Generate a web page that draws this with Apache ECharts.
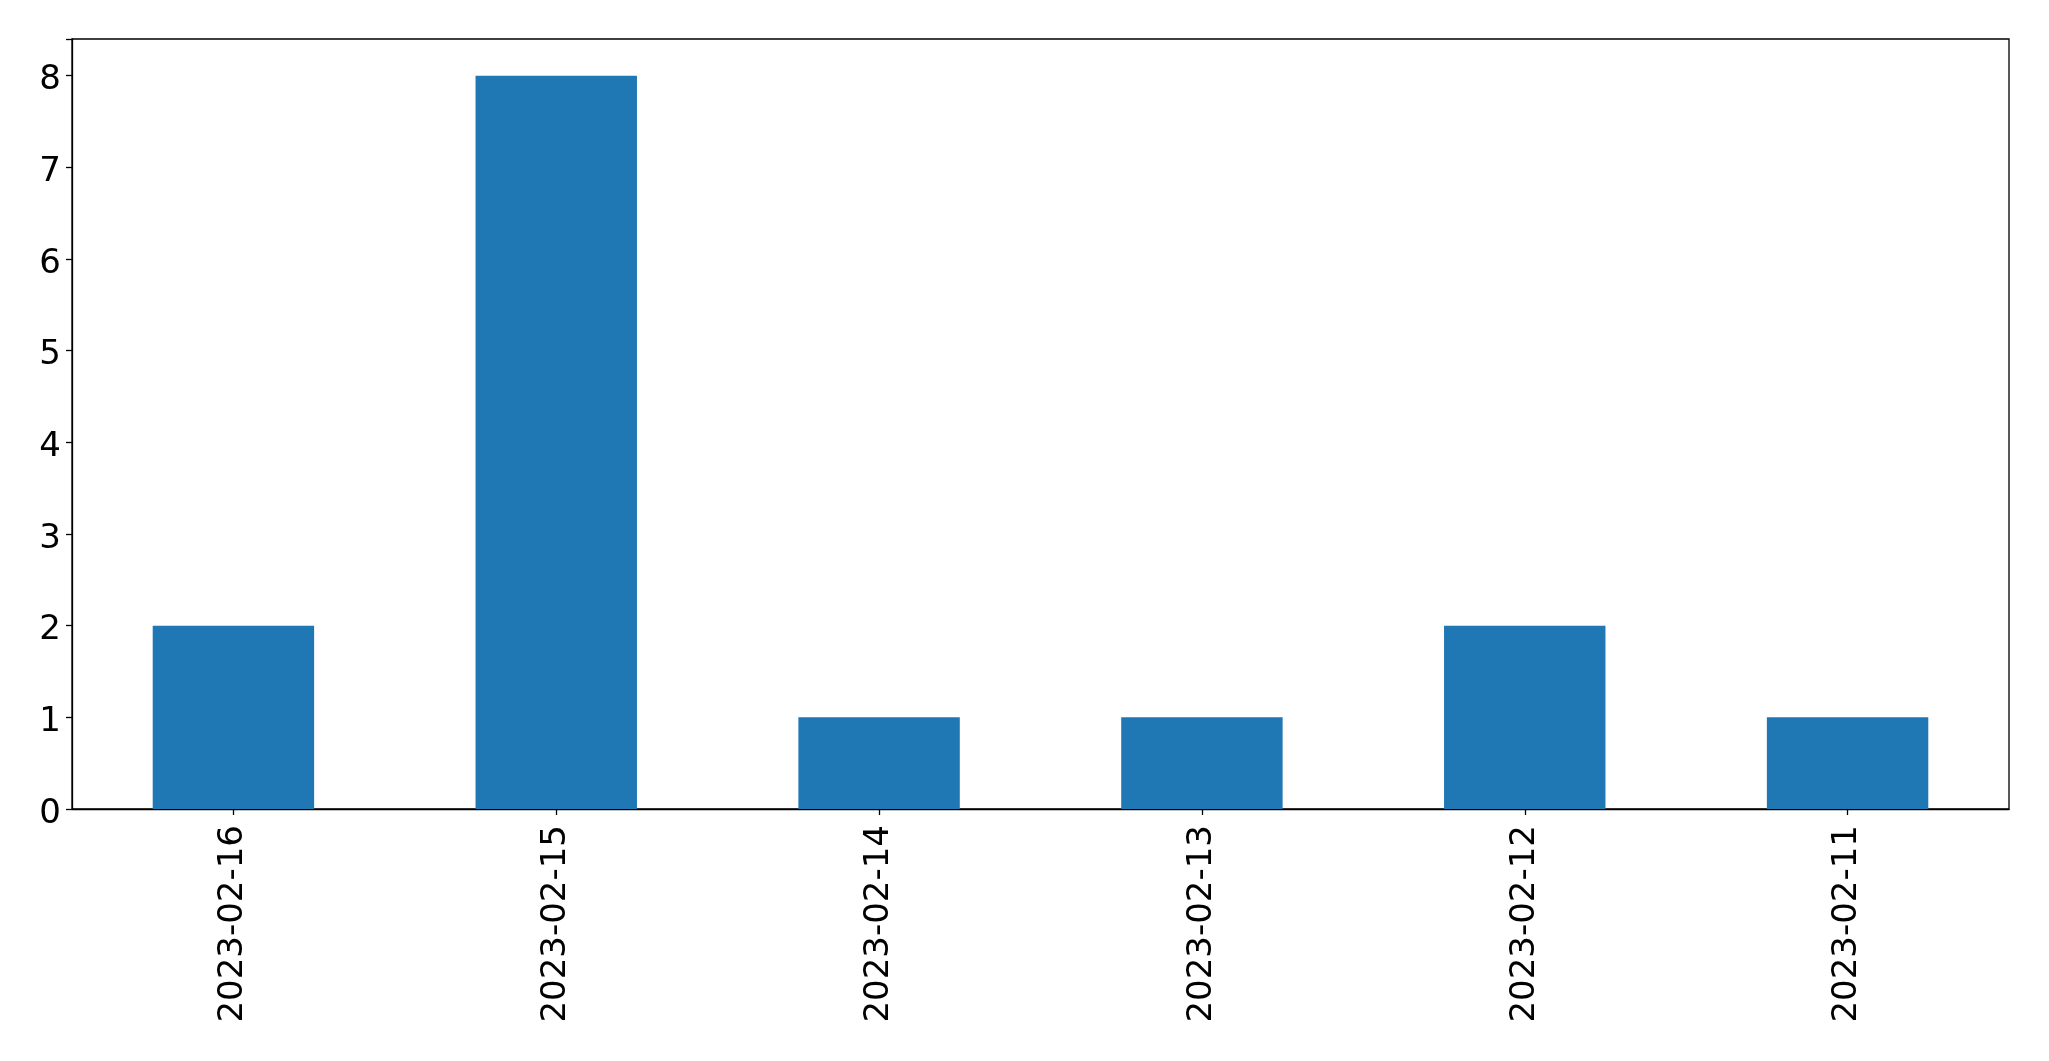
<!DOCTYPE html>
<html>
<head>
<meta charset="utf-8">
<script src="https://cdn.jsdelivr.net/npm/echarts@6/dist/echarts.min.js"></script>
<style>html,body{margin:0;padding:0;background:#fff}#c{width:2049px;height:1061px}</style>
</head>
<body>
<div id="c"></div>
<script>
const categories = ['2023-02-16','2023-02-15','2023-02-14','2023-02-13','2023-02-12','2023-02-11'];
const counts = [2, 8, 1, 1, 2, 1];
const yTicks = [0,1,2,3,4,5,6,7,8];

const chart = echarts.init(document.getElementById('c'), null, {renderer:'canvas'});
chart.setOption({
  animation: false,
  backgroundColor: '#ffffff',
  grid: {left: 72, right: 40, top: 39, bottom: 252, show: true, borderColor: '#000', borderWidth: 1.3, backgroundColor: 'transparent'},
  xAxis: {
    type: 'category',
    data: categories,
    axisLine: {show: true, lineStyle: {color: '#000', width: 1.3}},
    axisTick: {show: true, alignWithLabel: true, length: 6, lineStyle: {color: '#000', width: 1.3}},
    axisLabel: {rotate: 90, margin: 16, color: '#000', fontSize: 34, fontFamily: 'DejaVu Sans'},
    splitLine: {show: false}
  },
  yAxis: {
    type: 'value',
    min: 0, max: 8.4, interval: 1,
    axisLine: {show: true, lineStyle: {color: '#000', width: 1.3}},
    axisTick: {show: true, length: 6, lineStyle: {color: '#000', width: 1.3}},
    axisLabel: {margin: 11, color: '#000', fontSize: 34, fontFamily: 'DejaVu Sans',
      formatter: v => yTicks.includes(v) ? '{t|' + v + '}' : '',
      rich: {t: {fontSize: 34, fontFamily: 'DejaVu Sans', color: '#000', padding: [10, 0, 0, 0]}}},
    splitLine: {show: false}
  },
  series: [{
    type: 'bar',
    data: counts,
    barWidth: '50%',
    itemStyle: {color: '#1f77b4'}
  }]
});
</script>
</body>
</html>
